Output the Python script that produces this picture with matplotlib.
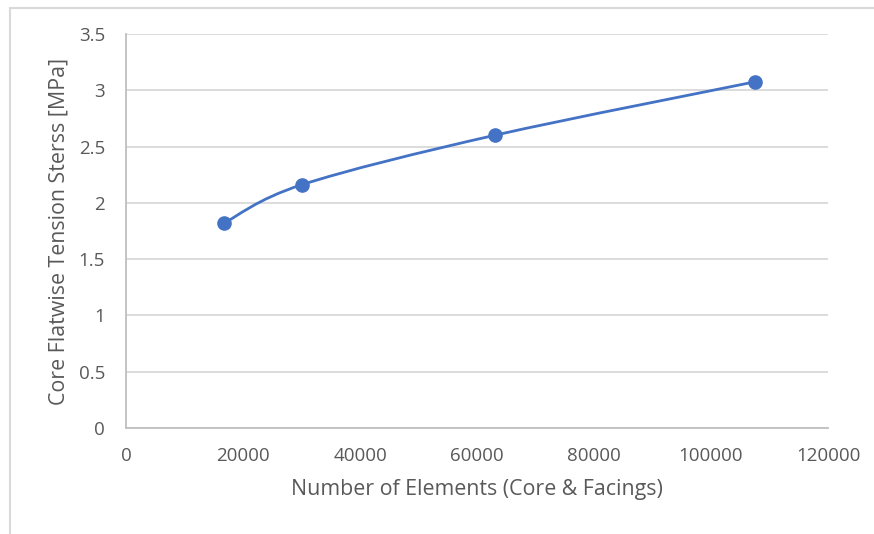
import matplotlib
matplotlib.use('Agg')
import matplotlib.pyplot as plt
from matplotlib.path import Path
import matplotlib.patches as mpatches
import numpy as np

# Mesh convergence data
n_elements = [16750, 30000, 63000, 107500]
stress_mpa = [1.82, 2.16, 2.60, 3.075]

x_ticks = [0, 20000, 40000, 60000, 80000, 100000, 120000]
y_ticks = [0, 0.5, 1, 1.5, 2, 2.5, 3, 3.5]

line_color = '#4472C4'
text_color = '#595959'
grid_color = '#d9d9d9'

plt.rcParams['font.family'] = ['Open Sans', 'DejaVu Sans']


def smooth_path(xs, ys):
    """Cubic Bezier through the points (Catmull-Rom style, like spreadsheet smoothing)."""
    pts = np.column_stack([xs, ys]).astype(float)
    n = len(pts)
    verts = [pts[0]]
    codes = [Path.MOVETO]
    for i in range(n - 1):
        p0 = pts[max(i - 1, 0)]
        p1 = pts[i]
        p2 = pts[i + 1]
        p3 = pts[min(i + 2, n - 1)]
        c1 = p1 + (p2 - p0) / 6.0
        c2 = p2 - (p3 - p1) / 6.0
        verts += [c1, c2, p2]
        codes += [Path.CURVE4] * 3
    return Path(verts, codes)


fig = plt.figure(figsize=(8.74, 5.34), dpi=100)
fig.patch.set_facecolor('white')
ax = fig.add_axes([126 / 874, 1 - 428 / 534, 702 / 874, 394 / 534])

# chart area border, clipped on the right and bottom
border = mpatches.Rectangle((10 / 874, -0.2), 1.2, 1.2 - 8 / 534,
                            transform=fig.transFigure, fill=False,
                            edgecolor='#d9d9d9', linewidth=1.5, clip_on=False)
fig.patches.append(border)

curve = mpatches.PathPatch(smooth_path(n_elements, stress_mpa), facecolor='none',
                           edgecolor=line_color, linewidth=2.0, zorder=3,
                           capstyle='round')
ax.add_patch(curve)
ax.plot(n_elements, stress_mpa, linestyle='none', marker='o', markersize=9.5,
        color=line_color, zorder=4)

ax.set_xlim(0, 120000)
ax.set_ylim(0, 3.5)
ax.set_xticks(x_ticks)
ax.set_yticks(y_ticks)
ax.set_xticklabels([str(v) for v in x_ticks])
ax.set_yticklabels([f'{v:g}' for v in y_ticks])
ax.tick_params(axis='both', length=0, labelsize=13.5, labelcolor=text_color)
ax.tick_params(axis='x', pad=14)
ax.tick_params(axis='y', pad=15)

ax.grid(axis='y', color=grid_color, linewidth=1.3)
ax.set_axisbelow(True)
for side in ['top', 'right']:
    ax.spines[side].set_visible(False)
for side in ['left', 'bottom']:
    ax.spines[side].set_color('#bfbfbf')
    ax.spines[side].set_linewidth(1.3)

ax.set_xlabel('Number of Elements (Core & Facings)', fontsize=15.4,
              color=text_color, labelpad=10)
ax.set_ylabel('Core Flatwise Tension Sterss [MPa]', fontsize=15.4,
              color=text_color, labelpad=7)

plt.savefig('out.png', dpi=100, facecolor='white')
plt.close()
